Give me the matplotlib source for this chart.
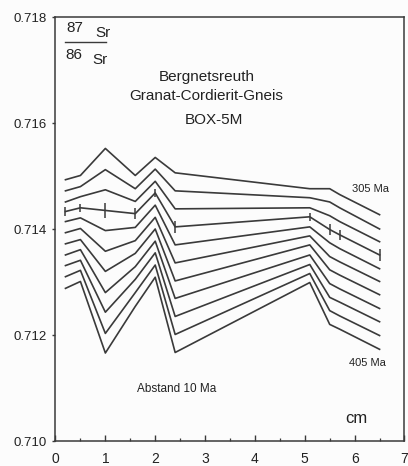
import matplotlib.pyplot as plt
from matplotlib.ticker import MultipleLocator

plt.rcParams['font.family'] = ['Liberation Sans', 'DejaVu Sans']

# sample positions along the profile (cm)
positions = [0.2, 0.5, 1.0, 1.6, 2.0, 2.4, 5.1, 5.5, 5.7, 6.5]

# 87Sr/86Sr recalculated back to 305 ... 405 Ma (10 Ma steps)
sr_305 = [0.71493, 0.71501, 0.71552, 0.71501, 0.71535, 0.71506, 0.71476, 0.71476, 0.71465, 0.71427]
sr_315 = [0.71472, 0.71480, 0.71512, 0.71476, 0.71513, 0.71472, 0.71459, 0.71451, 0.71440, 0.71400]
sr_325 = [0.71451, 0.71461, 0.71474, 0.71452, 0.71490, 0.71438, 0.71440, 0.71425, 0.71414, 0.71376]
sr_335 = [0.71433, 0.71440, 0.71435, 0.71429, 0.71468, 0.71404, 0.71423, 0.71399, 0.71389, 0.71351]
sr_345 = [0.71414, 0.71421, 0.71397, 0.71403, 0.71445, 0.71370, 0.71404, 0.71374, 0.71363, 0.71325]
sr_355 = [0.71393, 0.71401, 0.71358, 0.71378, 0.71422, 0.71336, 0.71387, 0.71348, 0.71338, 0.71301]
sr_365 = [0.71372, 0.71380, 0.71320, 0.71354, 0.71400, 0.71302, 0.71370, 0.71323, 0.71313, 0.71276]
sr_375 = [0.71351, 0.71361, 0.71280, 0.71329, 0.71377, 0.71269, 0.71351, 0.71297, 0.71287, 0.71250]
sr_385 = [0.71331, 0.71341, 0.71243, 0.71305, 0.71355, 0.71235, 0.71333, 0.71271, 0.71262, 0.71225]
sr_395 = [0.71310, 0.71322, 0.71203, 0.71280, 0.71332, 0.71201, 0.71316, 0.71246, 0.71236, 0.71199]
sr_405 = [0.71288, 0.71301, 0.71166, 0.71254, 0.71309, 0.71167, 0.71299, 0.71220, 0.71211, 0.71173]

# analytical uncertainty shown on the 335 Ma curve
err_335 = [0.00008, 0.00008, 0.00014, 0.00011, 0.00008, 0.00012, 0.00008, 0.00011, 0.00010, 0.00011]

curves = [sr_305, sr_315, sr_325, sr_335, sr_345, sr_355,
          sr_365, sr_375, sr_385, sr_395, sr_405]

ink = '#3a3a3a'

fig = plt.figure(figsize=(4.08, 4.66), dpi=100, facecolor='#fcfcfc')
ax = fig.add_axes([55.5 / 408, 1 - 441 / 466, 349 / 408, 424 / 466])
ax.set_facecolor('#fcfcfc')

for sr in curves:
    ax.plot(positions, sr, color=ink, lw=1.2)

ax.errorbar(positions, sr_335, yerr=err_335, fmt='none',
            ecolor=ink, elinewidth=1.1, capsize=0)

ax.set_xlim(0, 7)
ax.set_ylim(0.710, 0.718)
ax.xaxis.set_major_locator(MultipleLocator(1))
ax.xaxis.set_minor_locator(MultipleLocator(0.5))
ax.yaxis.set_major_locator(MultipleLocator(0.002))
ax.yaxis.set_major_formatter(plt.FormatStrFormatter('%.3f'))

ax.tick_params(axis='x', which='major', direction='in', length=4, width=1,
               color=ink, labelsize=10, pad=8, labelcolor='#222')
ax.tick_params(axis='x', which='minor', direction='in', length=2.5, width=0.9,
               color=ink)
ax.tick_params(axis='y', direction='out', length=2.5, width=1, color=ink,
               labelsize=9.5, pad=3.5, labelcolor='#222')

for sp in ax.spines.values():
    sp.set_color(ink)
    sp.set_linewidth(1.1)

# ratio label in the corner
tr = ax.transAxes
ax.text(0.030, 0.974, '87', transform=tr, fontsize=11, ha='left', va='center', color='#222')
ax.text(0.113, 0.962, 'Sr', transform=tr, fontsize=11, ha='left', va='center', color='#222')
ax.plot([0.027, 0.145], [0.941, 0.941], transform=tr, color=ink, lw=1.0)
ax.text(0.027, 0.910, '86', transform=tr, fontsize=11, ha='left', va='center', color='#222')
ax.text(0.105, 0.898, 'Sr', transform=tr, fontsize=11, ha='left', va='center', color='#222')

ax.text(0.432, 0.858, 'Bergnetsreuth', transform=tr, fontsize=11, ha='center', va='center', color='#222')
ax.text(0.432, 0.814, 'Granat-Cordierit-Gneis', transform=tr, fontsize=11, ha='center', va='center', color='#222')
ax.text(0.454, 0.757, 'BOX-5M', transform=tr, fontsize=11, ha='center', va='center', color='#222')

ax.text(0.904, 0.594, '305 Ma', transform=tr, fontsize=8, ha='center', va='center', color='#222')
ax.text(0.895, 0.184, '405 Ma', transform=tr, fontsize=8, ha='center', va='center', color='#222')
ax.text(0.348, 0.123, 'Abstand 10 Ma', transform=tr, fontsize=8.5, ha='center', va='center', color='#222')
ax.text(0.861, 0.052, 'cm', transform=tr, fontsize=12, ha='center', va='center', color='#222')

fig.savefig('out.png', dpi=100, facecolor=fig.get_facecolor())
